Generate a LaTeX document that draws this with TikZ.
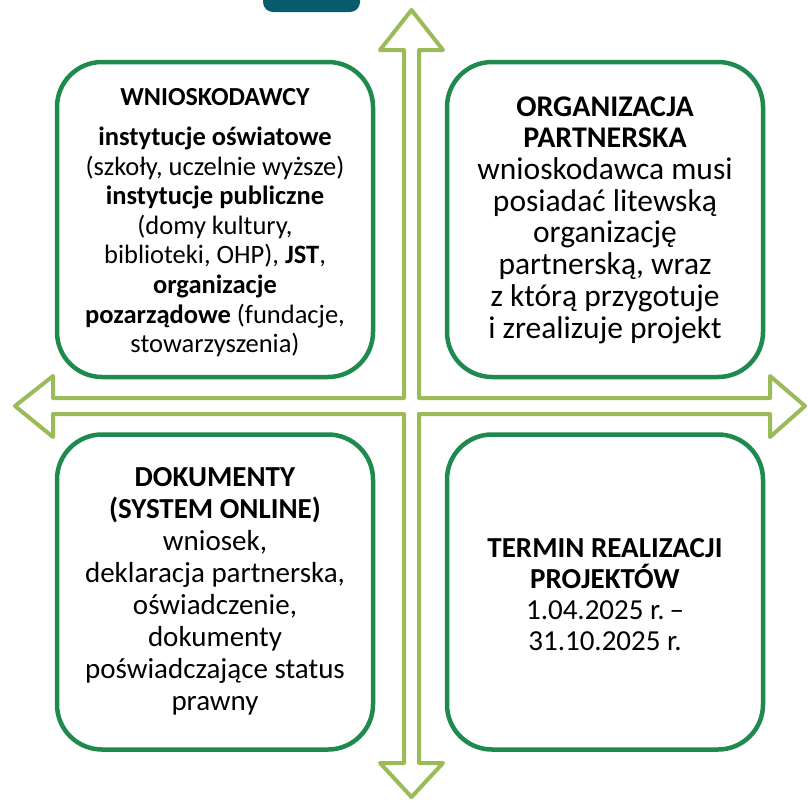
\documentclass[tikz,border=0pt]{standalone}
\usepackage{fontspec}
\setmainfont{Carlito}
\definecolor{boxgreen}{RGB}{31,138,77}
\definecolor{arrowgreen}{RGB}{155,187,89}
\definecolor{tabteal}{RGB}{6,92,106}
\begin{document}
\begin{tikzpicture}[x=1pt,y=-1pt,
  box/.style={draw=boxgreen, line width=4.5pt, rounded corners=45pt, minimum width=316pt, minimum height=315pt, inner sep=0pt},
  txt/.style={align=center, inner sep=0pt, text=black},
  crossarrow/.style={draw=arrowgreen, line width=4pt, line join=round}]
\useasboundingbox (0,0) rectangle (808,804);
% top tab
\fill[tabteal, rounded corners=10pt] (263,-20) rectangle (360,12);
% boxes
\node[box] (tl) at (215,219.5) {};
\node[box] (tr) at (605,219.5) {};
\node[box] (bl) at (215,592) {};
\node[box] (br) at (605,592) {};
% cross arrow
\draw[crossarrow] (411.5,10) -- (443,50) -- (419,50) -- (419,398) -- (770,398) -- (770,376) -- (805,406) -- (770,437) -- (770,414) -- (419,414) -- (419,763) -- (443,763) -- (411.5,797) -- (380,763) -- (404,763) -- (404,414) -- (53,414) -- (53,437) -- (15,406) -- (53,376) -- (53,398) -- (404,398) -- (404,50) -- (380,50) -- cycle;
% texts
\node[txt, font=\fontsize{26}{28}\selectfont\bfseries] (tlt) at (215,97) {WNIOSKODAWCY};
\node[txt, font=\fontsize{26.5}{29.6}\selectfont] (tlb) at (215,242) {\textbf{instytucje oświatowe}\\
(szkoły, uczelnie wyższe)\\
\textbf{instytucje publiczne}\\
(domy kultury,\\
biblioteki, OHP), \textbf{JST},\\
\textbf{organizacje}\\
\textbf{pozarządowe} (fundacje,\\
stowarzyszenia)};
\node[txt, font=\fontsize{31.5}{31.7}\selectfont] (trb) at (605,220) {{\fontsize{30}{31.7}\selectfont\textbf{ORGANIZACJA}}\\
{\fontsize{30}{31.7}\selectfont\textbf{PARTNERSKA}}\\
wnioskodawca musi\\
posiadać litewską\\
organizację\\
partnerską, wraz\\
z którą przygotuje\\
i zrealizuje projekt};
\node[txt, font=\fontsize{29}{32}\selectfont] (blb) at (215,591) {\textbf{DOKUMENTY}\\
\textbf{(SYSTEM ONLINE)}\\
wniosek,\\
deklaracja partnerska,\\
oświadczenie,\\
dokumenty\\
poświadczające status\\
prawny};
\node[txt, font=\fontsize{29}{31}\selectfont] (brb) at (605,595) {\textbf{TERMIN REALIZACJI}\\
\textbf{PROJEKTÓW}\\
1.04.2025 r.\,–\\
31.10.2025 r.};
\end{tikzpicture}
\end{document}
